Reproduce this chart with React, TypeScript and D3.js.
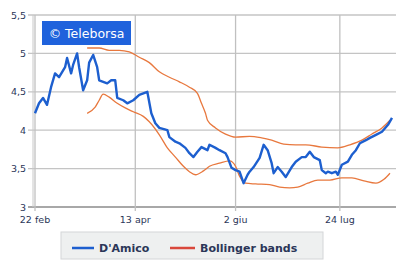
import React from 'react';
import * as d3 from 'd3';

// D'Amico price
const priceDates = [
  '2011-02-22', '2011-02-24', '2011-02-26', '2011-02-28', '2011-03-02', '2011-03-04', '2011-03-06', '2011-03-09',
  '2011-03-10', '2011-03-12', '2011-03-13', '2011-03-15', '2011-03-16', '2011-03-18', '2011-03-20', '2011-03-21',
  '2011-03-23', '2011-03-25', '2011-03-26', '2011-03-28', '2011-03-30', '2011-04-01', '2011-04-03', '2011-04-04',
  '2011-04-07', '2011-04-09', '2011-04-12', '2011-04-15', '2011-04-19', '2011-04-21', '2011-04-23', '2011-04-25',
  '2011-04-29', '2011-04-30', '2011-05-03', '2011-05-05', '2011-05-08', '2011-05-10', '2011-05-12', '2011-05-14',
  '2011-05-16', '2011-05-19', '2011-05-20', '2011-05-23', '2011-05-25', '2011-05-28', '2011-05-29', '2011-05-31',
  '2011-06-02', '2011-06-04', '2011-06-06', '2011-06-08', '2011-06-09', '2011-06-11', '2011-06-14', '2011-06-16',
  '2011-06-18', '2011-06-20', '2011-06-21', '2011-06-23', '2011-06-25', '2011-06-27', '2011-06-30', '2011-07-02',
  '2011-07-05', '2011-07-07', '2011-07-09', '2011-07-11', '2011-07-14', '2011-07-15', '2011-07-17', '2011-07-18',
  '2011-07-20', '2011-07-22', '2011-07-23', '2011-07-25', '2011-07-28', '2011-07-30', '2011-08-01', '2011-08-03',
  '2011-08-06', '2011-08-08', '2011-08-11', '2011-08-14', '2011-08-17', '2011-08-19',
];
const priceValues = [
  4.22, 4.35, 4.42, 4.33, 4.56, 4.74, 4.69, 4.82,
  4.94, 4.74, 4.85, 5.0, 4.82, 4.52, 4.65, 4.88,
  4.98, 4.82, 4.65, 4.63, 4.61, 4.65, 4.65, 4.42,
  4.39, 4.35, 4.39, 4.46, 4.5, 4.22, 4.09, 4.03,
  4.0, 3.91, 3.85, 3.83, 3.77, 3.7, 3.65, 3.72,
  3.78, 3.74, 3.81, 3.77, 3.74, 3.7, 3.65, 3.51,
  3.48, 3.46, 3.31, 3.42, 3.46, 3.52, 3.64, 3.81,
  3.74, 3.57, 3.44, 3.52, 3.46, 3.39, 3.52, 3.59,
  3.65, 3.65, 3.72, 3.65, 3.61, 3.48, 3.44, 3.46,
  3.44, 3.46, 3.42, 3.55, 3.59, 3.68, 3.74, 3.83,
  3.87, 3.9, 3.94, 3.98, 4.07, 4.16,
];

const upperDates = [
  '2011-03-20', '2011-03-26', '2011-03-31', '2011-04-05', '2011-04-10', '2011-04-15', '2011-04-20', '2011-04-25',
  '2011-04-30', '2011-05-05', '2011-05-10', '2011-05-14', '2011-05-16', '2011-05-18', '2011-05-19', '2011-05-23',
  '2011-05-28', '2011-06-02', '2011-06-09', '2011-06-15', '2011-06-20', '2011-06-26', '2011-07-02', '2011-07-07',
  '2011-07-15', '2011-07-23', '2011-07-29', '2011-08-04', '2011-08-09', '2011-08-14', '2011-08-18',
];
const upperValues = [
  5.07, 5.07, 5.04, 5.04, 5.02, 4.95, 4.88, 4.76,
  4.69, 4.63, 4.56, 4.48, 4.35, 4.22, 4.13, 4.03,
  3.95, 3.91, 3.92, 3.9, 3.87, 3.82, 3.81, 3.81,
  3.78, 3.77, 3.81, 3.87, 3.95, 4.03, 4.13,
];

const lowerDates = [
  '2011-03-20', '2011-03-24', '2011-03-26', '2011-03-28', '2011-03-31', '2011-04-04', '2011-04-08', '2011-04-12',
  '2011-04-17', '2011-04-20', '2011-04-25', '2011-04-29', '2011-05-03', '2011-05-07', '2011-05-10', '2011-05-13',
  '2011-05-17', '2011-05-20', '2011-05-25', '2011-05-30', '2011-06-02', '2011-06-04', '2011-06-07', '2011-06-12',
  '2011-06-19', '2011-06-24', '2011-06-29', '2011-07-03', '2011-07-08', '2011-07-13', '2011-07-19', '2011-07-25',
  '2011-07-30', '2011-08-05', '2011-08-11', '2011-08-15', '2011-08-18',
];
const lowerValues = [
  4.22, 4.3, 4.39, 4.47, 4.43, 4.35, 4.29, 4.24,
  4.18, 4.11, 3.94, 3.77, 3.65, 3.53, 3.46, 3.42,
  3.47, 3.53, 3.57, 3.6, 3.53, 3.4, 3.31, 3.3,
  3.29, 3.26, 3.25, 3.26, 3.31, 3.35, 3.35, 3.38,
  3.38, 3.34, 3.31, 3.36, 3.44,
];

const yTicks = [3, 3.5, 4, 4.5, 5, 5.5];
const xTickDates = ['2011-02-22', '2011-04-13', '2011-06-02', '2011-07-24'];
const xTickLabels = ['22 feb', '13 apr', '2 giu', '24 lug'];

const parse = d3.timeParse('%Y-%m-%d');
const pairs = (ds: string[], vs: number[]) => ds.map((d, i) => ({ date: parse(d) as Date, value: vs[i] }));

export default function App() {
  const width = 396, height = 261;
  const left = 35, right = 394, top = 15, bottom = 207;

  const x = d3.scaleTime()
    .domain([parse('2011-02-22') as Date, parse('2011-08-20') as Date])
    .range([left, right]);
  const y = d3.scaleLinear().domain([3, 5.5]).range([bottom, top]);

  const line = d3.line<{ date: Date; value: number }>()
    .x(d => x(d.date))
    .y(d => y(d.value));
  const smooth = d3.line<{ date: Date; value: number }>()
    .x(d => x(d.date))
    .y(d => y(d.value))
    .curve(d3.curveMonotoneX);

  const fmt = (v: number) => String(v).replace('.', ',');
  const labelColor = '#2b3658';
  const font = '"DejaVu Sans", Verdana, sans-serif';

  return (
    <svg width={width} height={height} style={{ position: 'absolute', left: 0, top: 0, background: '#fff' }}>
      {/* grid */}
      {yTicks.map(t => (
        <g key={t}>
          <line x1={28} x2={width} y1={y(t)} y2={y(t)} stroke={t === 3 ? '#a8a8a8' : '#c4c4c4'} strokeWidth={t === 3 ? 2 : 1.3} />
          <text x={26} y={y(t) + 3.5} textAnchor="end" fontSize={9.5} fontFamily={font} fill={labelColor}>{fmt(t)}</text>
        </g>
      ))}
      {xTickDates.map((d, i) => (
        <g key={d}>
          <line x1={x(parse(d) as Date)} x2={x(parse(d) as Date)} y1={top} y2={bottom + 4} stroke="#c0c0c0" strokeWidth={1.3} />
          <text x={x(parse(d) as Date)} y={223} textAnchor="middle" fontSize={9.5} fontFamily={font} fill={labelColor}>{xTickLabels[i]}</text>
        </g>
      ))}
      <line x1={left - 2} x2={left - 2} y1={top} y2={bottom} stroke="#c8c8c8" strokeWidth={1} />

      {/* Bollinger bands */}
      <path d={smooth(pairs(upperDates, upperValues)) || ''} fill="none" stroke="#e8783e" strokeWidth={1.3} />
      <path d={smooth(pairs(lowerDates, lowerValues)) || ''} fill="none" stroke="#e8783e" strokeWidth={1.3} />

      {/* price */}
      <path d={line(pairs(priceDates, priceValues)) || ''} fill="none" stroke="#1d5fcf" strokeWidth={2.4} strokeLinejoin="round" />

      {/* watermark */}
      <rect x={42} y={21} width={89} height={24} fill="#1f62dc" />
      <text x={86.5} y={37.5} textAnchor="middle" fontSize={12.5} fontFamily={font} fill="#fff">© Teleborsa</text>

      {/* legend */}
      <rect x={61} y={232} width={262} height={27} fill="#eef0f0" stroke="#d4d6d8" strokeWidth={1} />
      <line x1={72} x2={94} y1={248} y2={248} stroke="#1d5fcf" strokeWidth={2.5} />
      <text x={99} y={252} fontSize={11} fontWeight="bold" fontFamily={font} fill={labelColor}>D'Amico</text>
      <line x1={170} x2={195} y1={248} y2={248} stroke="#d9483c" strokeWidth={2.5} />
      <text x={200} y={252} fontSize={11} fontWeight="bold" fontFamily={font} fill={labelColor}>Bollinger bands</text>
    </svg>
  );
}
